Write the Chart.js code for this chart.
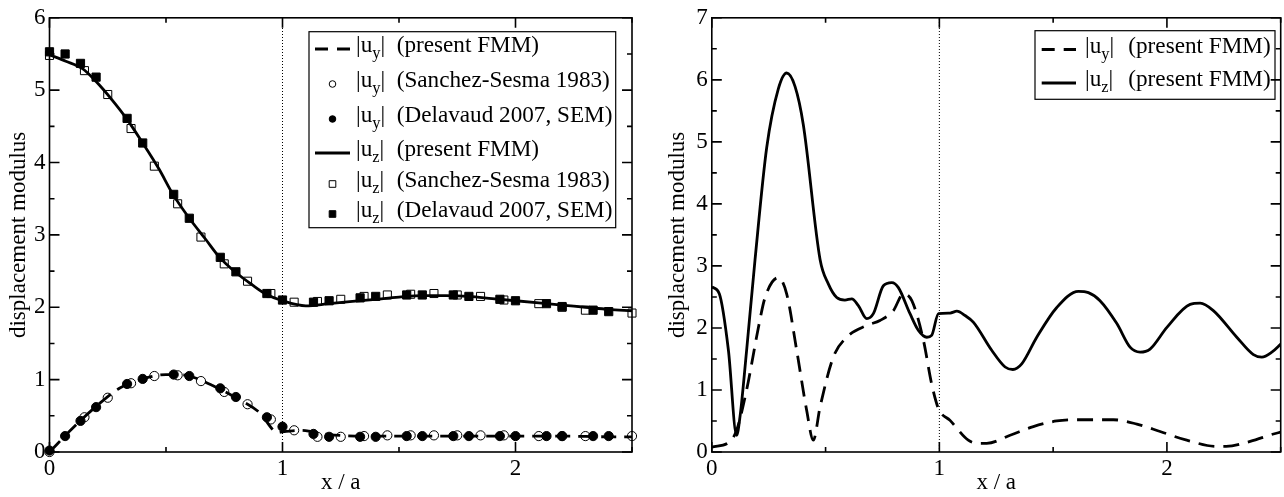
<!DOCTYPE html>
<html>
<head>
<meta charset="utf-8">
<script src="https://cdn.jsdelivr.net/npm/chart.js@4.4.1/dist/chart.umd.min.js"></script>
<style>
  html, body { margin: 0; padding: 0; background: #fff; }
  #wrap { position: relative; width: 1284px; height: 497px; overflow: hidden; }
  #left { position: absolute; left: 0; top: 0; }
  #right { position: absolute; left: 640px; top: 0; }
</style>
</head>
<body>
<div id="wrap">
  <canvas id="left" width="640" height="497"></canvas>
  <canvas id="right" width="644" height="497"></canvas>
</div>
<script>
// ── DATA: left panel ─────────────────────────────────────────────────────────
// present FMM, |u_z| (solid) and |u_y| (dashed)
const fmmZX = [0, 0.07, 0.14, 0.2, 0.27, 0.33, 0.4, 0.47, 0.53, 0.6, 0.67, 0.73, 0.8, 0.87, 0.93, 1.0, 1.1, 1.2, 1.3, 1.4, 1.5, 1.6, 1.7, 1.8, 1.9, 2.0, 2.1, 2.2, 2.3, 2.4, 2.5];
const fmmZY = [5.49, 5.40, 5.30, 5.12, 4.86, 4.61, 4.27, 3.91, 3.56, 3.23, 2.94, 2.69, 2.48, 2.31, 2.18, 2.09, 2.02, 2.05, 2.08, 2.11, 2.14, 2.16, 2.16, 2.15, 2.12, 2.09, 2.06, 2.03, 2.00, 1.97, 1.95];
const fmmYX = [0, 0.1, 0.2, 0.3, 0.4, 0.5, 0.55, 0.6, 0.7, 0.8, 0.9, 0.98, 1.0, 1.08, 1.2, 1.4, 1.6, 1.8, 2.0, 2.2, 2.4, 2.5];
const fmmYY = [0, 0.33, 0.63, 0.88, 1.01, 1.07, 1.07, 1.05, 0.92, 0.75, 0.55, 0.27, 0.28, 0.30, 0.24, 0.22, 0.22, 0.22, 0.22, 0.22, 0.21, 0.21];

// Sanchez-Sesma 1983 (open symbols)
const ssX  = [0, 0.15, 0.25, 0.35, 0.45, 0.55, 0.65, 0.75, 0.85, 0.95, 1.05, 1.15, 1.25, 1.35, 1.45, 1.55, 1.65, 1.75, 1.85, 1.95, 2.1, 2.2, 2.3, 2.5];
const ssZ  = [5.48, 5.27, 4.94, 4.47, 3.95, 3.43, 2.97, 2.60, 2.36, 2.19, 2.07, 2.08, 2.11, 2.15, 2.17, 2.18, 2.19, 2.17, 2.15, 2.10, 2.05, 2.00, 1.96, 1.92];
const ssY  = [0, 0.48, 0.75, 0.95, 1.05, 1.06, 0.98, 0.83, 0.66, 0.45, 0.30, 0.21, 0.21, 0.22, 0.23, 0.23, 0.23, 0.23, 0.23, 0.23, 0.22, 0.22, 0.22, 0.22];

// Delavaud 2007, SEM (filled symbols)
const delX = [0, 0.067, 0.133, 0.2, 0.333, 0.4, 0.533, 0.6, 0.733, 0.8, 0.933, 1.0, 1.133, 1.2, 1.333, 1.4, 1.533, 1.6, 1.733, 1.8, 1.933, 2.0, 2.133, 2.2, 2.333, 2.4];
const delZ = [5.53, 5.50, 5.37, 5.18, 4.61, 4.27, 3.56, 3.23, 2.69, 2.49, 2.19, 2.10, 2.07, 2.09, 2.13, 2.15, 2.17, 2.17, 2.17, 2.15, 2.11, 2.09, 2.05, 2.01, 1.96, 1.94];
const delY = [0.02, 0.22, 0.43, 0.62, 0.94, 1.01, 1.07, 1.05, 0.88, 0.76, 0.48, 0.35, 0.25, 0.21, 0.21, 0.21, 0.22, 0.22, 0.22, 0.22, 0.22, 0.22, 0.22, 0.22, 0.22, 0.22];

// ── DATA: right panel ────────────────────────────────────────────────────────
const rZX = [0, 0.033, 0.073, 0.109, 0.124, 0.153, 0.19, 0.241, 0.292, 0.329, 0.366, 0.402, 0.476, 0.512, 0.549, 0.585, 0.615, 0.644, 0.681, 0.71, 0.754, 0.791, 0.82, 0.871, 0.908, 0.945, 0.966, 0.996, 1.047, 1.077, 1.113, 1.15, 1.23, 1.289, 1.323, 1.362, 1.428, 1.516, 1.611, 1.655, 1.706, 1.78, 1.838, 1.882, 1.926, 2.0, 2.102, 2.146, 2.204, 2.307, 2.38, 2.417, 2.461, 2.5];
const rZY = [2.66, 2.55, 1.64, 0.27, 0.57, 1.64, 3.1, 4.9, 5.85, 6.11, 5.89, 5.28, 3.1, 2.71, 2.49, 2.45, 2.47, 2.36, 2.15, 2.23, 2.68, 2.73, 2.65, 2.23, 1.96, 1.85, 1.88, 2.23, 2.24, 2.27, 2.2, 2.09, 1.64, 1.37, 1.33, 1.42, 1.85, 2.33, 2.59, 2.57, 2.44, 2.07, 1.69, 1.61, 1.66, 2.01, 2.38, 2.40, 2.28, 1.85, 1.57, 1.53, 1.61, 1.74];
const rYX = [0, 0.08, 0.109, 0.153, 0.205, 0.234, 0.292, 0.329, 0.373, 0.417, 0.446, 0.476, 0.534, 0.593, 0.681, 0.739, 0.798, 0.842, 0.879, 0.93, 0.966, 0.996, 1.047, 1.127, 1.171, 1.208, 1.311, 1.413, 1.516, 1.611, 1.765, 1.868, 1.97, 2.087, 2.219, 2.26, 2.366, 2.468, 2.5];
const rYY = [0.08, 0.17, 0.35, 1.0, 2.01, 2.49, 2.81, 2.55, 1.64, 0.67, 0.19, 0.73, 1.53, 1.85, 2.04, 2.12, 2.28, 2.55, 2.44, 1.80, 1.10, 0.70, 0.51, 0.19, 0.14, 0.14, 0.27, 0.41, 0.50, 0.52, 0.52, 0.45, 0.33, 0.19, 0.09, 0.09, 0.17, 0.29, 0.32];

// valley edge marker (x / a = 1)
const edgeX = [1, 1];
const leftEdgeY = [0, 6];
const rightEdgeY = [0, 7];

// axis text and legend entries
const xTitle = 'x / a';
const yTitle = 'displacement modulus';
const leftLegend = [
  { sub: 'y', text: '(present FMM)', mark: 'dash' },
  { sub: 'y', text: '(Sanchez-Sesma 1983)', mark: 'circle' },
  { sub: 'y', text: '(Delavaud 2007, SEM)', mark: 'disc' },
  { sub: 'z', text: '(present FMM)', mark: 'line' },
  { sub: 'z', text: '(Sanchez-Sesma 1983)', mark: 'square' },
  { sub: 'z', text: '(Delavaud 2007, SEM)', mark: 'block' }
];
const rightLegend = [
  { sub: 'y', text: '(present FMM)', mark: 'dash' },
  { sub: 'z', text: '(present FMM)', mark: 'line' }
];

// ── HELPERS ──────────────────────────────────────────────────────────────────
const serif = "'Liberation Serif', 'Times New Roman', serif";
const pts = (xs, ys) => xs.map((x, i) => ({ x, y: ys[i] }));

function curve(xs, ys, dash, order) {
  return { data: pts(xs, ys), showLine: true, borderColor: '#000', borderWidth: 2.8, borderDash: dash,
    pointRadius: 0, cubicInterpolationMode: 'monotone', order };
}
function markers(xs, ys, style, filled, r, order) {
  return { data: pts(xs, ys), showLine: false, pointStyle: style, pointRadius: r, pointHoverRadius: r,
    pointBackgroundColor: filled ? '#000' : 'rgba(0,0,0,0)', pointBorderColor: '#000', pointBorderWidth: 1,
    order, clip: false };
}
function edgeLine(ys) {
  return { data: pts(edgeX, ys), showLine: true, borderColor: '#000', borderWidth: 1, borderDash: [1, 2],
    pointRadius: 0, order: 9 };
}

// frame on all four sides with inward major/minor ticks
const frameTicks = {
  id: 'frameTicks',
  afterDraw(chart) {
    const { ctx, chartArea: a, scales: { x, y } } = chart;
    ctx.save();
    ctx.strokeStyle = '#000';
    ctx.lineWidth = 1.6;
    ctx.strokeRect(a.left, a.top, a.right - a.left, a.bottom - a.top);
    ctx.beginPath();
    for (let v = x.min; v <= x.max + 1e-9; v += 0.5) {
      const px = x.getPixelForValue(v), len = Number.isInteger(v) ? 10 : 5;
      ctx.moveTo(px, a.bottom); ctx.lineTo(px, a.bottom - len);
      ctx.moveTo(px, a.top); ctx.lineTo(px, a.top + len);
    }
    for (let v = y.min; v <= y.max + 1e-9; v += 0.5) {
      const py = y.getPixelForValue(v), len = Number.isInteger(v) ? 10 : 5;
      ctx.moveTo(a.left, py); ctx.lineTo(a.left + len, py);
      ctx.moveTo(a.right, py); ctx.lineTo(a.right - len, py);
    }
    ctx.stroke();
    ctx.restore();
  }
};

// legend box with |u_y| style subscripts
function texLegend(cfg) {
  return {
    id: 'texLegend',
    afterDraw(chart) {
      const ctx = chart.ctx;
      ctx.save();
      ctx.strokeStyle = '#000';
      ctx.lineWidth = 1.2;
      const [x1, y1, x2, y2] = cfg.box;
      ctx.strokeRect(x1, y1, x2 - x1, y2 - y1);
      cfg.rows.forEach((row, i) => {
        const base = cfg.baselines[i], my = base - 3;
        const [s1, s2] = cfg.sample;
        if (row.mark === 'dash' || row.mark === 'line') {
          ctx.lineWidth = 3;
          ctx.setLineDash(row.mark === 'dash' ? [13, 9] : []);
          ctx.beginPath(); ctx.moveTo(s1, my); ctx.lineTo(s2, my); ctx.stroke();
          ctx.setLineDash([]);
        } else {
          const cx = (s1 + s2) / 2;
          ctx.lineWidth = 1;
          ctx.beginPath();
          if (row.mark === 'circle' || row.mark === 'disc') ctx.arc(cx, my, 3.3, 0, Math.PI * 2);
          else ctx.rect(cx - 3.3, my - 3.3, 6.6, 6.6);
          if (row.mark === 'disc' || row.mark === 'block') { ctx.fillStyle = '#000'; ctx.fill(); }
          ctx.stroke();
        }
        ctx.fillStyle = '#000';
        ctx.textAlign = 'left';
        ctx.textBaseline = 'alphabetic';
        let tx = cfg.textX;
        ctx.font = `23.2px ${serif}`;
        ctx.fillText('|u', tx, base); tx += ctx.measureText('|u').width;
        ctx.font = `16.5px ${serif}`;
        ctx.fillText(row.sub, tx, base + 6); tx += ctx.measureText(row.sub).width;
        ctx.font = `23.2px ${serif}`;
        ctx.fillText('|', tx, base);
        ctx.fillText(row.text, cfg.labelX, base);
      });
      ctx.restore();
    }
  };
}

function axes(ymax, yWidth, yTitlePad) {
  const font = { family: serif, size: 23 };
  return {
    x: {
      type: 'linear', min: 0, max: 2.5,
      afterFit: s => { s.height = 45; },
      grid: { display: false, drawTicks: false }, border: { display: false },
      ticks: { stepSize: 1, includeBounds: false, color: '#000', font, padding: 3, maxRotation: 0 },
      title: { display: true, text: xTitle, color: '#000', font, padding: { top: 0, bottom: 0 } }
    },
    y: {
      type: 'linear', min: 0, max: ymax,
      afterFit: s => { s.width = yWidth; },
      grid: { display: false, drawTicks: false }, border: { display: false },
      ticks: { stepSize: 1, includeBounds: false, color: '#000', font, padding: 4 },
      title: { display: true, text: yTitle, color: '#000', font, padding: { top: yTitlePad, bottom: 0 } }
    }
  };
}

function baseOptions(pad, scales) {
  return {
    responsive: false, animation: false, events: [],
    layout: { padding: pad },
    scales,
    plugins: { legend: { display: false }, tooltip: { enabled: false } }
  };
}

// ── LEFT PANEL ───────────────────────────────────────────────────────────────
new Chart(document.getElementById('left'), {
  type: 'scatter',
  data: {
    datasets: [
      edgeLine(leftEdgeY),
      curve(fmmYX, fmmYY, [15, 8], 6),
      markers(ssX, ssY, 'circle', false, 4.6, 5),
      markers(delX, delY, 'circle', true, 4.6, 4),
      curve(fmmZX, fmmZY, [], 3),
      markers(ssX, ssZ, 'rect', false, 5.7, 2),
      markers(delX, delZ, 'rect', true, 5.8, 1)
    ]
  },
  options: baseOptions({ left: 0, right: 8, top: 16, bottom: 0 }, axes(6, 49.5, 5.2)),
  plugins: [frameTicks, texLegend({
    box: [309, 31.7, 615.7, 227.7], sample: [315, 350], textX: 356, labelX: 396.7,
    baselines: [52, 87, 122, 156, 187, 217], rows: leftLegend
  })]
});

// ── RIGHT PANEL ──────────────────────────────────────────────────────────────
new Chart(document.getElementById('right'), {
  type: 'scatter',
  data: {
    datasets: [
      edgeLine(rightEdgeY),
      curve(rYX, rYY, [16, 9], 2),
      curve(rZX, rZY, [], 1)
    ]
  },
  options: baseOptions({ left: 0, right: 3.3, top: 16, bottom: 0 }, axes(7, 71.8, 23.7)),
  plugins: [frameTicks, texLegend({
    box: [395, 30.7, 635, 99.3], sample: [401.7, 436], textX: 445, labelX: 488.3,
    baselines: [52.5, 86], rows: rightLegend
  })]
});
</script>
</body>
</html>
